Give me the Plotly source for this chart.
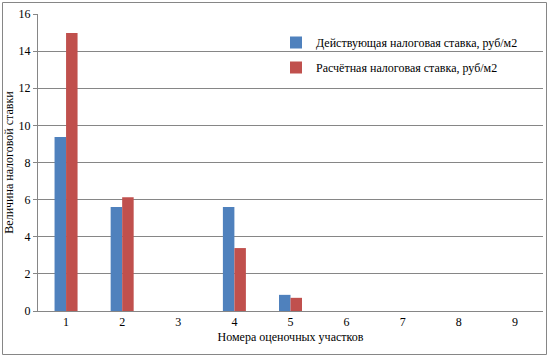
import plotly.graph_objects as go

categories = ["1", "2", "3", "4", "5", "6", "7", "8", "9"]
current_rate = [9.38, 5.6, 0, 5.6, 0.87, 0, 0, 0, 0]
calc_rate = [14.98, 6.13, 0, 3.39, 0.71, 0, 0, 0, 0]
y_ticks = [0, 2, 4, 6, 8, 10, 12, 14, 16]

W, H = 549, 357
ML, MR, MT, MB = 38, 6, 14, 46
pw, ph = W - ML - MR, H - MT - MB

FONT = "Liberation Serif"
GRAY = "#868686"

fig = go.Figure()
fig.add_trace(go.Bar(x=categories, y=current_rate, name="Действующая налоговая ставка, руб/м2",
                     marker=dict(color="#4F81BD", line=dict(width=0)), legendgroup="a"))
fig.add_trace(go.Bar(x=categories, y=calc_rate, name="Расчётная налоговая ставка, руб/м2",
                     marker=dict(color="#C0504D", line=dict(width=0)), legendgroup="b"))

def px_x(p):
    return (p - ML) / pw

def px_y(p):
    return (H - MB - p) / ph

fig.update_layout(
    width=W, height=H,
    margin=dict(l=ML, r=MR, t=MT, b=MB),
    paper_bgcolor="white", plot_bgcolor="white",
    font=dict(family=FONT, size=12, color="black"),
    barmode="group", bargap=0.59, bargroupgap=0,
    showlegend=True,
    legend=dict(x=px_x(276), y=px_y(28), xanchor="left", yanchor="top",
                bgcolor="rgba(0,0,0,0)", font=dict(family=FONT, size=12),
                tracegroupgap=6, itemwidth=30),
    xaxis=dict(showline=True, linecolor=GRAY, linewidth=1, ticks="", showgrid=False,
               tickfont=dict(family=FONT, size=12),
               title=dict(text="Номера оценочных участков",
                          font=dict(family=FONT, size=12), standoff=4)),
    yaxis=dict(range=[0, 16], tickvals=y_ticks, showline=True, linecolor=GRAY, linewidth=1,
               ticks="outside", ticklen=4, tickcolor=GRAY, showgrid=True, gridcolor=GRAY,
               gridwidth=1, zeroline=False, tickfont=dict(family=FONT, size=12),
               title=dict(text="Величина налоговой ставки",
                          font=dict(family=FONT, size=12), standoff=2)),
    shapes=[
        dict(type="rect", xref="paper", yref="paper",
             x0=px_x(297), x1=px_x(521), y0=px_y(82), y1=px_y(24),
             line=dict(width=0), fillcolor="white", layer="between"),
        dict(type="rect", xref="paper", yref="paper",
             x0=px_x(2.5), x1=px_x(546.5), y0=px_y(354.5), y1=px_y(2.5),
             line=dict(color=GRAY, width=1), fillcolor="rgba(0,0,0,0)", layer="above"),
    ],
)

fig.write_html("out.html", config={"displayModeBar": False},
               post_script="document.body.style.margin='0';")
